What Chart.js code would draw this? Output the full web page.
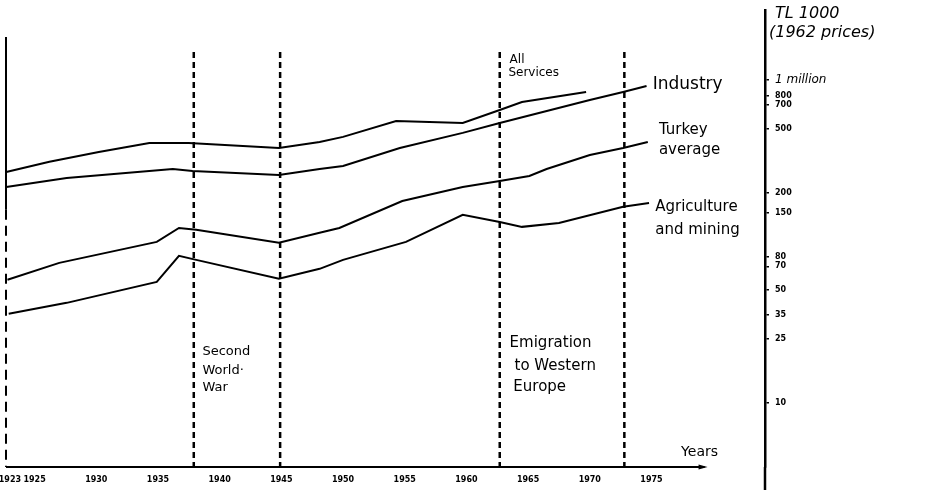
<!DOCTYPE html>
<html>
<head>
<meta charset="utf-8">
<script src="https://cdn.jsdelivr.net/npm/chart.js"></script>
<style>
  html, body { margin: 0; padding: 0; background: #fff; }
  #wrap { width: 931px; height: 490px; position: relative; }
</style>
</head>
<body>
<div id="wrap"><canvas id="growthChart"></canvas></div>
<script>
// values (TL 1000, 1962 prices, log scale)
const servicesYears = [1922.7, 1926.2, 1930.2, 1934.3, 1937.5, 1944.8, 1948.1, 1950, 1954.3, 1959.7, 1962.7, 1964.5, 1969.7];
const servicesValues = [269, 311, 358, 407, 407, 379, 413, 444, 557, 542, 652, 731, 843];

const industryYears = [1922.7, 1927.6, 1936.2, 1937.8, 1944.8, 1948.1, 1950, 1954.6, 1959.7, 1962.7, 1970, 1972.7, 1974.6];
const industryValues = [217, 247, 281, 273, 258, 281, 293, 379, 470, 542, 752, 843, 918];

const averageYears = [1922.8, 1927, 1934.9, 1936.7, 1938.1, 1944.8, 1948.1, 1949.7, 1954.8, 1959.7, 1962.7, 1965.1, 1966.5, 1970, 1972.7, 1974.7];
const averageValues = [57.8, 73.6, 99.3, 121, 118, 98, 113, 121, 178, 217, 237, 254, 281, 343, 379, 413];

const agricultureYears = [1922.9, 1927.6, 1934.9, 1936.7, 1938.1, 1944.8, 1948.1, 1950, 1955.1, 1959.7, 1962.7, 1964.5, 1967.5, 1972.7, 1974.8];
const agricultureValues = [35.6, 41.6, 56.1, 81.3, 76.8, 58.6, 67.6, 76.8, 99.3, 146, 132, 123, 130, 164, 173];

// period markers (dashed verticals)
const markerYears = [1937.9, 1944.9, 1962.7, 1972.8];

const yearTicks = [1923, 1925, 1930, 1935, 1940, 1945, 1950, 1955, 1960, 1965, 1970, 1975];
const valueTicks = [1000, 800, 700, 500, 200, 150, 80, 70, 50, 35, 25, 10];

// hand written notes: [text, year, value, font size]
const notes = [
  ['All', 1963.5, 1330, 12],
  ['Services', 1963.4, 1105, 12],
  ['Industry', 1975.1, 931, 17],
  ['Turkey', 1975.6, 490, 15],
  ['average', 1975.6, 368, 15],
  ['Agriculture', 1975.3, 164, 15],
  ['and mining', 1975.3, 118, 15],
  ['Second', 1938.6, 20.6, 13],
  ['World·', 1938.6, 15.9, 13],
  ['War', 1938.6, 12.5, 13],
  ['Emigration', 1963.5, 23.5, 15],
  ['to Western', 1963.9, 16.8, 15],
  ['Europe', 1963.8, 12.5, 15],
  ['Years', 1977.4, 4.9, 14]
];

const X_MIN = 1922.6, X_MAX = 1984.2, Y_MIN = 4, Y_MAX = 2714;

function zip(xs, ys) {
  return xs.map((x, i) => ({ x: x, y: ys[i] }));
}

function seriesSet(label, xs, ys) {
  return {
    label: label,
    data: zip(xs, ys),
    borderColor: '#000',
    borderWidth: 2,
    pointRadius: 0,
    tension: 0,
    fill: false
  };
}

const datasets = [
  seriesSet('All services', servicesYears, servicesValues),
  seriesSet('Industry', industryYears, industryValues),
  seriesSet('Turkey average', averageYears, averageValues),
  seriesSet('Agriculture and mining', agricultureYears, agricultureValues)
];
markerYears.forEach(yr => {
  datasets.push({
    label: 'marker',
    data: [{ x: yr, y: 1491 }, { x: yr, y: Y_MIN }],
    borderColor: '#000',
    borderWidth: 2.5,
    borderDash: [6, 4],
    pointRadius: 0
  });
});

const sketchPlugin = {
  id: 'sketch',
  afterDraw(chart) {
    const ctx = chart.ctx;
    const xs = chart.scales.x, ys = chart.scales.y;
    const area = chart.chartArea;
    ctx.save();
    ctx.strokeStyle = '#000';
    ctx.fillStyle = '#000';

    // left axis: solid top part, broken lower part
    const lx = xs.getPixelForValue(X_MIN) + 1;
    ctx.lineWidth = 2;
    ctx.beginPath();
    ctx.moveTo(lx, ys.getPixelForValue(1846));
    ctx.lineTo(lx, ys.getPixelForValue(157));
    ctx.stroke();
    ctx.setLineDash([10, 6]);
    ctx.beginPath();
    ctx.moveTo(lx, ys.getPixelForValue(157));
    ctx.lineTo(lx, area.bottom);
    ctx.stroke();
    ctx.setLineDash([]);

    // right axis runs on past the years axis
    ctx.lineWidth = 2.5;
    ctx.beginPath();
    ctx.moveTo(area.right, area.bottom);
    ctx.lineTo(area.right, chart.height);
    ctx.stroke();

    // years axis with arrow
    const ax = xs.getPixelForValue(1979.3);
    ctx.lineWidth = 2;
    ctx.beginPath();
    ctx.moveTo(lx, area.bottom);
    ctx.lineTo(ax, area.bottom);
    ctx.stroke();
    ctx.beginPath();
    ctx.moveTo(ax + 3, area.bottom);
    ctx.lineTo(ax - 6, area.bottom - 2.5);
    ctx.lineTo(ax - 6, area.bottom + 2.5);
    ctx.closePath();
    ctx.fill();

    // notes
    ctx.textAlign = 'left';
    ctx.textBaseline = 'middle';
    notes.forEach(n => {
      ctx.font = n[3] + 'px "DejaVu Sans", sans-serif';
      ctx.fillText(n[0], xs.getPixelForValue(n[1]), ys.getPixelForValue(n[2]));
    });

    // unit title at top right
    ctx.font = 'italic 16px "DejaVu Sans", sans-serif';
    ctx.fillText('TL 1000', area.right + 10, 14);
    ctx.fillText('(1962 prices)', area.right + 4, 33);
    ctx.restore();
  }
};

const ctx = document.getElementById('growthChart').getContext('2d');
new Chart(ctx, {
  type: 'line',
  data: { datasets: datasets },
  options: {
    responsive: true,
    maintainAspectRatio: false,
    animation: false,
    layout: { padding: { top: 10, left: 5, right: 0, bottom: 0 } },
    plugins: {
      legend: { display: false },
      tooltip: { enabled: false }
    },
    scales: {
      x: {
        type: 'linear',
        min: X_MIN,
        max: X_MAX,
        grid: { display: false, drawTicks: false },
        border: { display: false },
        afterBuildTicks: scale => {
          scale.ticks = yearTicks.map(v => ({ value: v }));
        },
        afterFit: scale => {
          scale.height = 23;
          scale.paddingLeft = 0;
          scale.paddingRight = 0;
        },
        ticks: {
          autoSkip: false,
          maxRotation: 0,
          padding: 8,
          color: '#000',
          font: { size: 8, weight: 'bold', family: '"DejaVu Sans", sans-serif' },
          callback: v => String(v)
        }
      },
      y: {
        type: 'logarithmic',
        position: 'right',
        min: Y_MIN,
        max: Y_MAX,
        grid: { drawOnChartArea: false, drawTicks: true, tickLength: 4, color: '#000', lineWidth: 1.5 },
        border: { display: true, color: '#000', width: 2.5 },
        afterBuildTicks: scale => {
          scale.ticks = valueTicks.map(v => ({ value: v }));
        },
        afterFit: scale => {
          scale.width = 166;
          scale.paddingTop = 0;
          scale.paddingBottom = 0;
        },
        ticks: {
          autoSkip: false,
          padding: 6,
          color: '#000',
          font: c => (c.tick && c.tick.value === 1000)
            ? { size: 12, style: 'italic', family: '"DejaVu Sans", sans-serif' }
            : { size: 8, weight: 'bold', family: '"DejaVu Sans", sans-serif' },
          callback: v => v === 1000 ? '1 million' : String(v)
        }
      }
    }
  },
  plugins: [sketchPlugin]
});
</script>
</body>
</html>
